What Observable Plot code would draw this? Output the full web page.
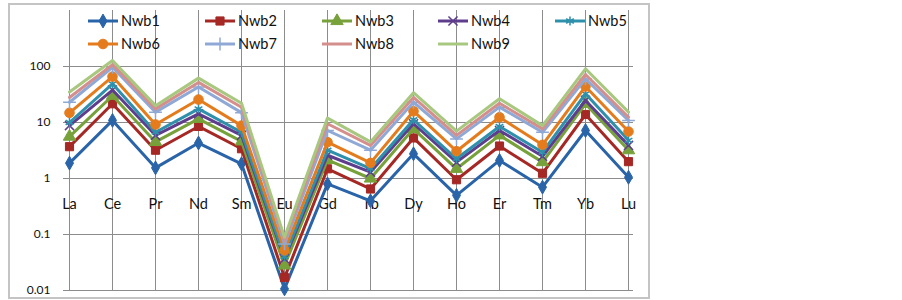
<!DOCTYPE html>
<html>
<head>
<meta charset="utf-8">
<script src="https://cdn.jsdelivr.net/npm/d3@7"></script>
<script src="https://cdn.jsdelivr.net/npm/@observablehq/plot@0.6"></script>
<style>
  html, body { margin: 0; padding: 0; background: #fff; }
  #wrap { position: relative; width: 902px; height: 300px; font-family: Lato, "Noto Sans", sans-serif; }
  #frame { position: absolute; left: 8px; top: 3px; width: 638px; height: 292px; border: 2px solid #c4c4c4; pointer-events: none; }
  #legend { position: absolute; left: 0; top: 0; pointer-events: none; }
</style>
</head>
<body>
<div id="wrap"><div id="frame"></div></div>
<script>
const categories = ["La","Ce","Pr","Nd","Sm","Eu","Gd","Tb","Dy","Ho","Er","Tm","Yb","Lu"];
const seriesNames = ["Nwb1","Nwb2","Nwb3","Nwb4","Nwb5","Nwb6","Nwb7","Nwb8","Nwb9"];
const yTicks = [0.01, 0.1, 1, 10, 100];

const nwb1 = [1.88, 10.9, 1.55, 4.3, 1.83, 0.0107, 0.80, 0.40, 2.76, 0.50, 2.1, 0.70, 7.2, 1.05];
const nwb2 = [3.7, 21.6, 3.2, 8.5, 3.4, 0.017, 1.49, 0.65, 5.3, 0.95, 3.8, 1.24, 13.9, 2.0];
const nwb3 = [5.6, 30, 4.5, 11.6, 4.6, 0.028, 2.15, 1.0, 7.7, 1.49, 5.9, 1.96, 21.6, 3.2];
const nwb4 = [8.8, 38, 5.9, 14.3, 5.9, 0.037, 2.6, 1.3, 9.5, 1.96, 7.2, 2.5, 24.7, 3.9];
const nwb5 = [10, 49, 6.7, 17.5, 6.7, 0.040, 3.2, 1.5, 11.2, 2.25, 8.5, 2.95, 32.5, 4.8];
const nwb6 = [14.9, 66, 9.2, 25.7, 8.8, 0.052, 4.45, 1.9, 15.9, 3.07, 12.4, 4.0, 44, 6.9];
const nwb7 = [23, 97, 15.3, 43, 15, 0.068, 7.2, 3.2, 23, 5.1, 18.8, 6.7, 60, 10.9];
const nwb8 = [28, 108, 17.5, 52, 18.7, 0.078, 9.5, 3.9, 28, 5.9, 22, 7.7, 72, 12.4];
const nwb9 = [35, 128, 20, 62, 22, 0.089, 12, 4.5, 34, 7.0, 26.5, 8.8, 91, 15.3];

const seriesValues = [nwb1, nwb2, nwb3, nwb4, nwb5, nwb6, nwb7, nwb8, nwb9];
const colors = ["#2a64a8","#a52825","#77a13a","#5e3e8c","#2f90ab","#e47c1d","#8fa9d6","#d48e8c","#a8c880"];
const symbols = ["diamond","square","triangle","times","asterisk","circle","plus",null,null];
const filled = [true,true,true,false,false,true,false,false,false];
const radii = [4.2,4.6,4.6,4.2,4.2,4.8,4.2,0,0];

const rows = [];
seriesValues.forEach((vals, si) => vals.forEach((v, ci) => rows.push({series: seriesNames[si], si, cat: categories[ci], value: v})));

const marks = [
  Plot.ruleY(yTicks, {stroke: "#8c8c8c", strokeWidth: 1}),
  Plot.ruleX(categories, {x: d => d, stroke: "#8c8c8c", strokeWidth: 1}),
  Plot.axisY({ticks: yTicks, tickSize: 0, tickPadding: 13, tickFormat: d => String(d), fontSize: 12, fill: "#111", label: null}),
  Plot.text(categories, {x: d => d, y: () => 1, dy: 26, text: d => d, fontSize: 14.5, fill: "#111"})
];
seriesNames.forEach((name, si) => {
  const data = rows.filter(r => r.si === si);
  marks.push(Plot.line(data, {x: "cat", y: "value", stroke: colors[si], strokeWidth: 3, strokeLinejoin: "round", strokeLinecap: "round"}));
  if (symbols[si]) {
    marks.push(Plot.dot(data, {
      x: "cat", y: "value", symbol: symbols[si], r: radii[si],
      fill: filled[si] ? colors[si] : "none",
      stroke: colors[si], strokeWidth: filled[si] ? 1 : 1.5
    }));
  }
});

const chart = Plot.plot({
  width: 902, height: 300,
  marginLeft: 63, marginRight: 269, marginTop: 10, marginBottom: 10,
  style: {fontFamily: "Lato, 'Noto Sans', sans-serif", background: "transparent"},
  x: {type: "point", domain: categories, padding: 0, axis: null},
  y: {type: "log", domain: [0.01, 1000], axis: null},
  marks
});
document.getElementById("wrap").prepend(chart);

// Legend overlay
const svg = d3.select("#wrap").append("svg").attr("id", "legend").attr("width", 902).attr("height", 300);
const colX = [88, 205, 322, 438, 555];
const rowY = [21, 44];
const d3sym = {diamond: d3.symbolDiamond, square: d3.symbolSquare, triangle: d3.symbolTriangle, times: d3.symbolTimes, asterisk: d3.symbolAsterisk, circle: d3.symbolCircle, plus: d3.symbolPlus};
seriesNames.forEach((name, si) => {
  const x = colX[si % 5], y = rowY[Math.floor(si / 5)];
  const g = svg.append("g").attr("transform", `translate(${x},${y})`);
  g.append("line").attr("x1", 0).attr("x2", 30).attr("y1", 0).attr("y2", 0).attr("stroke", colors[si]).attr("stroke-width", 3);
  if (symbols[si]) {
    g.append("path").attr("transform", "translate(15,0)")
      .attr("d", d3.symbol(d3sym[symbols[si]], Math.PI * radii[si] * radii[si])())
      .attr("fill", filled[si] ? colors[si] : "none")
      .attr("stroke", colors[si]).attr("stroke-width", filled[si] ? 1 : 1.5);
  }
  g.append("text").attr("x", 33).attr("y", 0).attr("dy", "0.35em")
    .attr("font-size", 14.5).attr("fill", "#111").attr("font-family", "Lato, 'Noto Sans', sans-serif").text(name);
});
</script>
</body>
</html>
